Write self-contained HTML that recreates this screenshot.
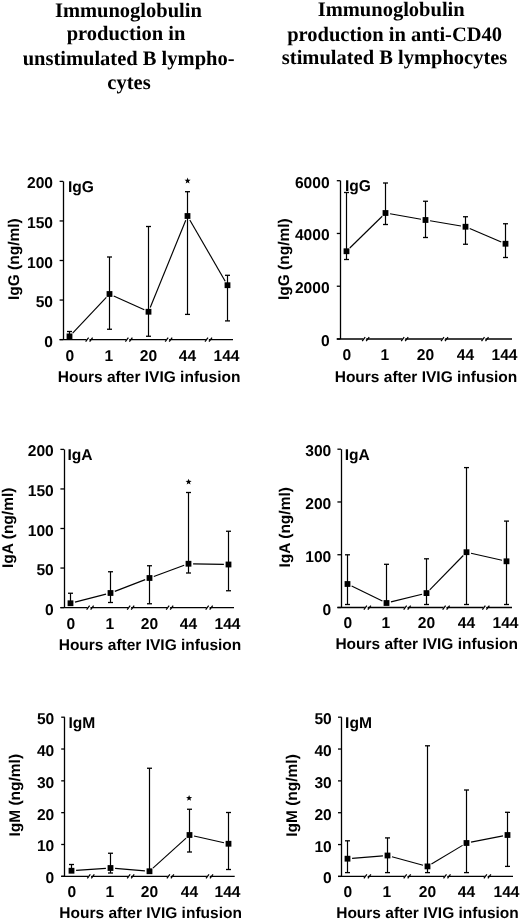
<!DOCTYPE html>
<html><head><meta charset="utf-8"><title>Immunoglobulin production</title>
<style>html,body{margin:0;padding:0;background:#fff;overflow:hidden;}svg{display:block;will-change:transform;text-rendering:geometricPrecision;}</style></head>
<body><svg width="520" height="919" viewBox="0 0 520 919">
<rect width="520" height="919" fill="#fff"/>
<g fill="#000" font-family='"Liberation Serif", serif' font-weight="bold" font-size="20.5"><text x="128.4" y="17" text-anchor="middle">Immunoglobulin</text><text x="126" y="40.2" text-anchor="middle">production in</text><text x="128.6" y="65" text-anchor="middle">unstimulated B lympho-</text><text x="129" y="89.3" text-anchor="middle">cytes</text><text x="391.2" y="15.6" text-anchor="middle">Immunoglobulin</text><text x="394.6" y="40.5" text-anchor="middle">production in anti-CD40</text><text x="394.6" y="64.3" text-anchor="middle">stimulated B lymphocytes</text></g><g stroke="#000" stroke-width="1.3"><line x1="63.5" y1="181.4" x2="63.5" y2="339.6" stroke-width="1.3"/><line x1="59.6" y1="181.4" x2="63.2" y2="181.4"/><line x1="59.6" y1="220.95" x2="63.2" y2="220.95"/><line x1="59.6" y1="260.5" x2="63.2" y2="260.5"/><line x1="59.6" y1="300.05" x2="63.2" y2="300.05"/><line x1="59.6" y1="339.6" x2="63.2" y2="339.6"/><line x1="59.6" y1="339.6" x2="233" y2="339.6"/><polygon points="87.1,338 90,338 88.8,341.2 85.9,341.2" fill="#fff" stroke="none"/><line x1="85.6" y1="341.6" x2="88.6" y2="337.6" stroke-width="1.25"/><line x1="89.6" y1="341.6" x2="92.6" y2="337.6" stroke-width="1.25"/><polygon points="126.9,338 129.8,338 128.6,341.2 125.7,341.2" fill="#fff" stroke="none"/><line x1="125.4" y1="341.6" x2="128.4" y2="337.6" stroke-width="1.25"/><line x1="129.4" y1="341.6" x2="132.4" y2="337.6" stroke-width="1.25"/><polygon points="166.7,338 169.6,338 168.4,341.2 165.5,341.2" fill="#fff" stroke="none"/><line x1="165.2" y1="341.6" x2="168.2" y2="337.6" stroke-width="1.25"/><line x1="169.2" y1="341.6" x2="172.2" y2="337.6" stroke-width="1.25"/><polygon points="206.5,338 209.4,338 208.2,341.2 205.3,341.2" fill="#fff" stroke="none"/><line x1="205" y1="341.6" x2="208" y2="337.6" stroke-width="1.25"/><line x1="209" y1="341.6" x2="212" y2="337.6" stroke-width="1.25"/><line x1="72.66" y1="333.05" x2="106.34" y2="297.35" stroke-width="1.15"/><line x1="113.69" y1="295.91" x2="144.31" y2="309.84" stroke-width="1.15"/><line x1="150.24" y1="307.49" x2="185.76" y2="220.26" stroke-width="1.15"/><line x1="189.8" y1="219.98" x2="225.2" y2="281.22" stroke-width="1.15"/><line x1="69.5" y1="331.5" x2="69.5" y2="336.4" stroke-width="1.2"/><line x1="67" y1="331.5" x2="72" y2="331.5"/><rect x="66.6" y="333.5" width="5.8" height="5.8" fill="#000" stroke="none"/><line x1="109.5" y1="257" x2="109.5" y2="329.25" stroke-width="1.2"/><line x1="107" y1="257" x2="112" y2="257"/><line x1="107" y1="329.25" x2="112" y2="329.25"/><rect x="106.6" y="291.1" width="5.8" height="5.8" fill="#000" stroke="none"/><line x1="148.5" y1="226.5" x2="148.5" y2="336.25" stroke-width="1.2"/><line x1="146" y1="226.5" x2="151" y2="226.5"/><line x1="146" y1="336.25" x2="151" y2="336.25"/><rect x="145.6" y="308.85" width="5.8" height="5.8" fill="#000" stroke="none"/><line x1="187.5" y1="191.7" x2="187.5" y2="314.4" stroke-width="1.2"/><line x1="185" y1="191.7" x2="190" y2="191.7"/><line x1="185" y1="314.4" x2="190" y2="314.4"/><rect x="184.6" y="213.1" width="5.8" height="5.8" fill="#000" stroke="none"/><line x1="227.5" y1="275.3" x2="227.5" y2="320.9" stroke-width="1.2"/><line x1="225" y1="275.3" x2="230" y2="275.3"/><line x1="225" y1="320.9" x2="230" y2="320.9"/><rect x="224.6" y="282.3" width="5.8" height="5.8" fill="#000" stroke="none"/><polygon points="187.6,177.6 188.39,179.71 190.64,179.81 188.88,181.22 189.48,183.39 187.6,182.15 185.72,183.39 186.32,181.22 184.56,179.81 186.81,179.71" fill="#000" stroke="none"/></g><g fill="#000" font-family='"Liberation Sans", sans-serif' font-weight="bold"><text x="53" y="188.4" text-anchor="end" font-size="15.6">200</text><text x="53" y="227.95" text-anchor="end" font-size="15.6">150</text><text x="53" y="267.5" text-anchor="end" font-size="15.6">100</text><text x="53" y="307.05" text-anchor="end" font-size="15.6">50</text><text x="53" y="346.6" text-anchor="end" font-size="15.6">0</text><text x="69.8" y="360.8" text-anchor="middle" font-size="15.6">0</text><text x="108.9" y="360.8" text-anchor="middle" font-size="15.6">1</text><text x="148.5" y="360.8" text-anchor="middle" font-size="15.6">20</text><text x="187.5" y="360.8" text-anchor="middle" font-size="15.6">44</text><text x="226.5" y="360.8" text-anchor="middle" font-size="15.6">144</text><text x="57.8" y="382.1" font-size="15.5">Hours after IVIG infusion</text><text x="68" y="192" font-size="15.6">IgG</text><text transform="translate(19,259.2) rotate(-90)" text-anchor="middle" font-size="15.5">IgG (ng/ml)</text></g><g stroke="#000" stroke-width="1.3"><line x1="340.5" y1="180.7" x2="340.5" y2="339" stroke-width="1.3"/><line x1="336.8" y1="180.7" x2="340.4" y2="180.7"/><line x1="336.8" y1="233.47" x2="340.4" y2="233.47"/><line x1="336.8" y1="286.23" x2="340.4" y2="286.23"/><line x1="336.8" y1="339" x2="340.4" y2="339"/><line x1="336.8" y1="339" x2="512" y2="339"/><polygon points="363.7,337.4 366.6,337.4 365.4,340.6 362.5,340.6" fill="#fff" stroke="none"/><line x1="362.2" y1="341" x2="365.2" y2="337" stroke-width="1.25"/><line x1="366.2" y1="341" x2="369.2" y2="337" stroke-width="1.25"/><polygon points="402.7,337.4 405.6,337.4 404.4,340.6 401.5,340.6" fill="#fff" stroke="none"/><line x1="401.2" y1="341" x2="404.2" y2="337" stroke-width="1.25"/><line x1="405.2" y1="341" x2="408.2" y2="337" stroke-width="1.25"/><polygon points="442.5,337.4 445.4,337.4 444.2,340.6 441.3,340.6" fill="#fff" stroke="none"/><line x1="441" y1="341" x2="444" y2="337" stroke-width="1.25"/><line x1="445" y1="341" x2="448" y2="337" stroke-width="1.25"/><polygon points="483,337.4 485.9,337.4 484.7,340.6 481.8,340.6" fill="#fff" stroke="none"/><line x1="481.5" y1="341" x2="484.5" y2="337" stroke-width="1.25"/><line x1="485.5" y1="341" x2="488.5" y2="337" stroke-width="1.25"/><line x1="349.78" y1="248.03" x2="382.22" y2="216.22" stroke-width="1.15"/><line x1="390.03" y1="213.79" x2="420.97" y2="219.21" stroke-width="1.15"/><line x1="430.04" y1="220.77" x2="460.96" y2="225.98" stroke-width="1.15"/><line x1="469.73" y1="228.55" x2="501.27" y2="241.95" stroke-width="1.15"/><line x1="346.5" y1="192.5" x2="346.5" y2="259.5" stroke-width="1.2"/><line x1="344" y1="192.5" x2="349" y2="192.5"/><line x1="344" y1="259.5" x2="349" y2="259.5"/><rect x="343.6" y="248.35" width="5.8" height="5.8" fill="#000" stroke="none"/><line x1="385.5" y1="183" x2="385.5" y2="224.5" stroke-width="1.2"/><line x1="383" y1="183" x2="388" y2="183"/><line x1="383" y1="224.5" x2="388" y2="224.5"/><rect x="382.6" y="210.1" width="5.8" height="5.8" fill="#000" stroke="none"/><line x1="425.5" y1="201.25" x2="425.5" y2="237.5" stroke-width="1.2"/><line x1="423" y1="201.25" x2="428" y2="201.25"/><line x1="423" y1="237.5" x2="428" y2="237.5"/><rect x="422.6" y="217.1" width="5.8" height="5.8" fill="#000" stroke="none"/><line x1="465.5" y1="216.75" x2="465.5" y2="244.25" stroke-width="1.2"/><line x1="463" y1="216.75" x2="468" y2="216.75"/><line x1="463" y1="244.25" x2="468" y2="244.25"/><rect x="462.6" y="223.85" width="5.8" height="5.8" fill="#000" stroke="none"/><line x1="505.5" y1="223.75" x2="505.5" y2="257.5" stroke-width="1.2"/><line x1="503" y1="223.75" x2="508" y2="223.75"/><line x1="503" y1="257.5" x2="508" y2="257.5"/><rect x="502.6" y="240.85" width="5.8" height="5.8" fill="#000" stroke="none"/></g><g fill="#000" font-family='"Liberation Sans", sans-serif' font-weight="bold"><text x="329.6" y="187.7" text-anchor="end" font-size="15.6">6000</text><text x="329.6" y="240.47" text-anchor="end" font-size="15.6">4000</text><text x="329.6" y="293.23" text-anchor="end" font-size="15.6">2000</text><text x="329.6" y="346" text-anchor="end" font-size="15.6">0</text><text x="346.8" y="360.2" text-anchor="middle" font-size="15.6">0</text><text x="384.9" y="360.2" text-anchor="middle" font-size="15.6">1</text><text x="425.5" y="360.2" text-anchor="middle" font-size="15.6">20</text><text x="465.5" y="360.2" text-anchor="middle" font-size="15.6">44</text><text x="504.5" y="360.2" text-anchor="middle" font-size="15.6">144</text><text x="334.7" y="381.5" font-size="15.5">Hours after IVIG infusion</text><text x="344.9" y="190.5" font-size="15.6">IgG</text><text transform="translate(288.6,259.2) rotate(-90)" text-anchor="middle" font-size="15.5">IgG (ng/ml)</text></g><g stroke="#000" stroke-width="1.3"><line x1="64.5" y1="449.4" x2="64.5" y2="607.6" stroke-width="1.3"/><line x1="60.4" y1="449.4" x2="64" y2="449.4"/><line x1="60.4" y1="488.95" x2="64" y2="488.95"/><line x1="60.4" y1="528.5" x2="64" y2="528.5"/><line x1="60.4" y1="568.05" x2="64" y2="568.05"/><line x1="60.4" y1="607.6" x2="64" y2="607.6"/><line x1="60.4" y1="607.6" x2="234" y2="607.6"/><polygon points="88.1,606 91,606 89.8,609.2 86.9,609.2" fill="#fff" stroke="none"/><line x1="86.6" y1="609.6" x2="89.6" y2="605.6" stroke-width="1.25"/><line x1="90.6" y1="609.6" x2="93.6" y2="605.6" stroke-width="1.25"/><polygon points="128.7,606 131.6,606 130.4,609.2 127.5,609.2" fill="#fff" stroke="none"/><line x1="127.2" y1="609.6" x2="130.2" y2="605.6" stroke-width="1.25"/><line x1="131.2" y1="609.6" x2="134.2" y2="605.6" stroke-width="1.25"/><polygon points="167.7,606 170.6,606 169.4,609.2 166.5,609.2" fill="#fff" stroke="none"/><line x1="166.2" y1="609.6" x2="169.2" y2="605.6" stroke-width="1.25"/><line x1="170.2" y1="609.6" x2="173.2" y2="605.6" stroke-width="1.25"/><polygon points="207.2,606 210.1,606 208.9,609.2 206,609.2" fill="#fff" stroke="none"/><line x1="205.7" y1="609.6" x2="208.7" y2="605.6" stroke-width="1.25"/><line x1="209.7" y1="609.6" x2="212.7" y2="605.6" stroke-width="1.25"/><line x1="74.96" y1="602.11" x2="106.04" y2="594.14" stroke-width="1.15"/><line x1="114.79" y1="591.35" x2="145.21" y2="579.65" stroke-width="1.15"/><line x1="153.82" y1="576.42" x2="184.18" y2="565.33" stroke-width="1.15"/><line x1="193.1" y1="563.84" x2="223.9" y2="564.41" stroke-width="1.15"/><line x1="70.5" y1="593.25" x2="70.5" y2="603.25" stroke-width="1.2"/><line x1="68" y1="593.25" x2="73" y2="593.25"/><rect x="67.6" y="600.35" width="5.8" height="5.8" fill="#000" stroke="none"/><line x1="110.5" y1="571.75" x2="110.5" y2="602.5" stroke-width="1.2"/><line x1="108" y1="571.75" x2="113" y2="571.75"/><line x1="108" y1="602.5" x2="113" y2="602.5"/><rect x="107.6" y="590.1" width="5.8" height="5.8" fill="#000" stroke="none"/><line x1="149.5" y1="565.75" x2="149.5" y2="603.75" stroke-width="1.2"/><line x1="147" y1="565.75" x2="152" y2="565.75"/><line x1="147" y1="603.75" x2="152" y2="603.75"/><rect x="146.6" y="575.1" width="5.8" height="5.8" fill="#000" stroke="none"/><line x1="188.5" y1="492.5" x2="188.5" y2="573" stroke-width="1.2"/><line x1="186" y1="492.5" x2="191" y2="492.5"/><line x1="186" y1="573" x2="191" y2="573"/><rect x="185.6" y="560.85" width="5.8" height="5.8" fill="#000" stroke="none"/><line x1="228.5" y1="531.25" x2="228.5" y2="590.75" stroke-width="1.2"/><line x1="226" y1="531.25" x2="231" y2="531.25"/><line x1="226" y1="590.75" x2="231" y2="590.75"/><rect x="225.6" y="561.6" width="5.8" height="5.8" fill="#000" stroke="none"/><polygon points="188.6,478.7 189.39,480.81 191.64,480.91 189.88,482.32 190.48,484.49 188.6,483.25 186.72,484.49 187.32,482.32 185.56,480.91 187.81,480.81" fill="#000" stroke="none"/></g><g fill="#000" font-family='"Liberation Sans", sans-serif' font-weight="bold"><text x="53.8" y="456.4" text-anchor="end" font-size="15.6">200</text><text x="53.8" y="495.95" text-anchor="end" font-size="15.6">150</text><text x="53.8" y="535.5" text-anchor="end" font-size="15.6">100</text><text x="53.8" y="575.05" text-anchor="end" font-size="15.6">50</text><text x="53.8" y="614.6" text-anchor="end" font-size="15.6">0</text><text x="70.8" y="628.5" text-anchor="middle" font-size="15.6">0</text><text x="109.9" y="628.5" text-anchor="middle" font-size="15.6">1</text><text x="149.5" y="628.5" text-anchor="middle" font-size="15.6">20</text><text x="188.5" y="628.5" text-anchor="middle" font-size="15.6">44</text><text x="227.5" y="628.5" text-anchor="middle" font-size="15.6">144</text><text x="58.7" y="649.8" font-size="15.5">Hours after IVIG infusion</text><text x="67.4" y="460" font-size="15.6">IgA</text><text transform="translate(13,527.8) rotate(-90)" text-anchor="middle" font-size="15.5">IgA (ng/ml)</text></g><g stroke="#000" stroke-width="1.3"><line x1="341.5" y1="449.2" x2="341.5" y2="607.5" stroke-width="1.3"/><line x1="337.4" y1="449.2" x2="341" y2="449.2"/><line x1="337.4" y1="501.97" x2="341" y2="501.97"/><line x1="337.4" y1="554.73" x2="341" y2="554.73"/><line x1="337.4" y1="607.5" x2="341" y2="607.5"/><line x1="337.4" y1="607.5" x2="512" y2="607.5"/><polygon points="365.4,605.9 368.3,605.9 367.1,609.1 364.2,609.1" fill="#fff" stroke="none"/><line x1="363.9" y1="609.5" x2="366.9" y2="605.5" stroke-width="1.25"/><line x1="367.9" y1="609.5" x2="370.9" y2="605.5" stroke-width="1.25"/><polygon points="405.2,605.9 408.1,605.9 406.9,609.1 404,609.1" fill="#fff" stroke="none"/><line x1="403.7" y1="609.5" x2="406.7" y2="605.5" stroke-width="1.25"/><line x1="407.7" y1="609.5" x2="410.7" y2="605.5" stroke-width="1.25"/><polygon points="444.1,605.9 447,605.9 445.8,609.1 442.9,609.1" fill="#fff" stroke="none"/><line x1="442.6" y1="609.5" x2="445.6" y2="605.5" stroke-width="1.25"/><line x1="446.6" y1="609.5" x2="449.6" y2="605.5" stroke-width="1.25"/><polygon points="483.9,605.9 486.8,605.9 485.6,609.1 482.7,609.1" fill="#fff" stroke="none"/><line x1="482.4" y1="609.5" x2="485.4" y2="605.5" stroke-width="1.25"/><line x1="486.4" y1="609.5" x2="489.4" y2="605.5" stroke-width="1.25"/><line x1="351.64" y1="586.01" x2="382.36" y2="600.99" stroke-width="1.15"/><line x1="390.97" y1="601.89" x2="422.03" y2="594.21" stroke-width="1.15"/><line x1="429.72" y1="589.81" x2="463.28" y2="555.49" stroke-width="1.15"/><line x1="470.99" y1="553.22" x2="502.01" y2="560.28" stroke-width="1.15"/><line x1="347.5" y1="554.8" x2="347.5" y2="604.5" stroke-width="1.2"/><line x1="345" y1="554.8" x2="350" y2="554.8"/><line x1="345" y1="604.5" x2="350" y2="604.5"/><rect x="344.6" y="581.1" width="5.8" height="5.8" fill="#000" stroke="none"/><line x1="386.5" y1="564.3" x2="386.5" y2="604.5" stroke-width="1.2"/><line x1="384" y1="564.3" x2="389" y2="564.3"/><line x1="384" y1="604.5" x2="389" y2="604.5"/><rect x="383.6" y="600.1" width="5.8" height="5.8" fill="#000" stroke="none"/><line x1="426.5" y1="558.8" x2="426.5" y2="604.5" stroke-width="1.2"/><line x1="424" y1="558.8" x2="429" y2="558.8"/><line x1="424" y1="604.5" x2="429" y2="604.5"/><rect x="423.6" y="590.2" width="5.8" height="5.8" fill="#000" stroke="none"/><line x1="466.5" y1="467.6" x2="466.5" y2="604.5" stroke-width="1.2"/><line x1="464" y1="467.6" x2="469" y2="467.6"/><line x1="464" y1="604.5" x2="469" y2="604.5"/><rect x="463.6" y="549.3" width="5.8" height="5.8" fill="#000" stroke="none"/><line x1="506.5" y1="521.1" x2="506.5" y2="604.5" stroke-width="1.2"/><line x1="504" y1="521.1" x2="509" y2="521.1"/><line x1="504" y1="604.5" x2="509" y2="604.5"/><rect x="503.6" y="558.4" width="5.8" height="5.8" fill="#000" stroke="none"/></g><g fill="#000" font-family='"Liberation Sans", sans-serif' font-weight="bold"><text x="331.3" y="456.2" text-anchor="end" font-size="15.6">300</text><text x="331.3" y="508.97" text-anchor="end" font-size="15.6">200</text><text x="331.3" y="561.73" text-anchor="end" font-size="15.6">100</text><text x="331.3" y="614.5" text-anchor="end" font-size="15.6">0</text><text x="347.8" y="628.2" text-anchor="middle" font-size="15.6">0</text><text x="385.9" y="628.2" text-anchor="middle" font-size="15.6">1</text><text x="426.5" y="628.2" text-anchor="middle" font-size="15.6">20</text><text x="466.5" y="628.2" text-anchor="middle" font-size="15.6">44</text><text x="505.5" y="628.2" text-anchor="middle" font-size="15.6">144</text><text x="335.4" y="649.2" font-size="15.5">Hours after IVIG infusion</text><text x="344.7" y="460" font-size="15.6">IgA</text><text transform="translate(289.6,527.3) rotate(-90)" text-anchor="middle" font-size="15.5">IgA (ng/ml)</text></g><g stroke="#000" stroke-width="1.3"><line x1="64.5" y1="717.2" x2="64.5" y2="876.3" stroke-width="1.3"/><line x1="61.2" y1="717.2" x2="64.8" y2="717.2"/><line x1="61.2" y1="749.02" x2="64.8" y2="749.02"/><line x1="61.2" y1="780.84" x2="64.8" y2="780.84"/><line x1="61.2" y1="812.66" x2="64.8" y2="812.66"/><line x1="61.2" y1="844.48" x2="64.8" y2="844.48"/><line x1="61.2" y1="876.3" x2="64.8" y2="876.3"/><line x1="61.2" y1="876.3" x2="234.7" y2="876.3"/><polygon points="88.8,874.7 91.7,874.7 90.5,877.9 87.6,877.9" fill="#fff" stroke="none"/><line x1="87.3" y1="878.3" x2="90.3" y2="874.3" stroke-width="1.25"/><line x1="91.3" y1="878.3" x2="94.3" y2="874.3" stroke-width="1.25"/><polygon points="128.7,874.7 131.6,874.7 130.4,877.9 127.5,877.9" fill="#fff" stroke="none"/><line x1="127.2" y1="878.3" x2="130.2" y2="874.3" stroke-width="1.25"/><line x1="131.2" y1="878.3" x2="134.2" y2="874.3" stroke-width="1.25"/><polygon points="168.4,874.7 171.3,874.7 170.1,877.9 167.2,877.9" fill="#fff" stroke="none"/><line x1="166.9" y1="878.3" x2="169.9" y2="874.3" stroke-width="1.25"/><line x1="170.9" y1="878.3" x2="173.9" y2="874.3" stroke-width="1.25"/><polygon points="207.5,874.7 210.4,874.7 209.2,877.9 206.3,877.9" fill="#fff" stroke="none"/><line x1="206" y1="878.3" x2="209" y2="874.3" stroke-width="1.25"/><line x1="210" y1="878.3" x2="213" y2="874.3" stroke-width="1.25"/><line x1="76.09" y1="870.43" x2="105.91" y2="868.32" stroke-width="1.15"/><line x1="115.08" y1="868.38" x2="144.92" y2="870.87" stroke-width="1.15"/><line x1="152.91" y1="868.16" x2="186.09" y2="838.09" stroke-width="1.15"/><line x1="193.99" y1="836.01" x2="224.01" y2="842.74" stroke-width="1.15"/><line x1="71.5" y1="864.5" x2="71.5" y2="870.75" stroke-width="1.2"/><line x1="69" y1="864.5" x2="74" y2="864.5"/><rect x="68.6" y="867.85" width="5.8" height="5.8" fill="#000" stroke="none"/><line x1="110.5" y1="853.25" x2="110.5" y2="873" stroke-width="1.2"/><line x1="108" y1="853.25" x2="113" y2="853.25"/><line x1="108" y1="873" x2="113" y2="873"/><rect x="107.6" y="865.1" width="5.8" height="5.8" fill="#000" stroke="none"/><line x1="149.5" y1="768.25" x2="149.5" y2="871.25" stroke-width="1.2"/><line x1="147" y1="768.25" x2="152" y2="768.25"/><rect x="146.6" y="868.35" width="5.8" height="5.8" fill="#000" stroke="none"/><line x1="189.5" y1="809.25" x2="189.5" y2="852" stroke-width="1.2"/><line x1="187" y1="809.25" x2="192" y2="809.25"/><line x1="187" y1="852" x2="192" y2="852"/><rect x="186.6" y="832.1" width="5.8" height="5.8" fill="#000" stroke="none"/><line x1="228.5" y1="812.5" x2="228.5" y2="869.5" stroke-width="1.2"/><line x1="226" y1="812.5" x2="231" y2="812.5"/><line x1="226" y1="869.5" x2="231" y2="869.5"/><rect x="225.6" y="840.85" width="5.8" height="5.8" fill="#000" stroke="none"/><polygon points="189.1,795 189.89,797.11 192.14,797.21 190.38,798.62 190.98,800.79 189.1,799.55 187.22,800.79 187.82,798.62 186.06,797.21 188.31,797.11" fill="#000" stroke="none"/></g><g fill="#000" font-family='"Liberation Sans", sans-serif' font-weight="bold"><text x="54.3" y="724.2" text-anchor="end" font-size="15.6">50</text><text x="54.3" y="756.02" text-anchor="end" font-size="15.6">40</text><text x="54.3" y="787.84" text-anchor="end" font-size="15.6">30</text><text x="54.3" y="819.66" text-anchor="end" font-size="15.6">20</text><text x="54.3" y="851.48" text-anchor="end" font-size="15.6">10</text><text x="54.3" y="883.3" text-anchor="end" font-size="15.6">0</text><text x="71.8" y="896.7" text-anchor="middle" font-size="15.6">0</text><text x="109.9" y="896.7" text-anchor="middle" font-size="15.6">1</text><text x="149.5" y="896.7" text-anchor="middle" font-size="15.6">20</text><text x="189.5" y="896.7" text-anchor="middle" font-size="15.6">44</text><text x="227.5" y="896.7" text-anchor="middle" font-size="15.6">144</text><text x="59.3" y="918.1" font-size="15.5">Hours after IVIG infusion</text><text x="68.4" y="727.8" font-size="15.6">IgM</text><text transform="translate(20.1,795.25) rotate(-90)" text-anchor="middle" font-size="15.5">IgM (ng/ml)</text></g><g stroke="#000" stroke-width="1.3"><line x1="341.5" y1="717.2" x2="341.5" y2="876.4" stroke-width="1.3"/><line x1="338" y1="717.2" x2="341.6" y2="717.2"/><line x1="338" y1="749.04" x2="341.6" y2="749.04"/><line x1="338" y1="780.88" x2="341.6" y2="780.88"/><line x1="338" y1="812.72" x2="341.6" y2="812.72"/><line x1="338" y1="844.56" x2="341.6" y2="844.56"/><line x1="338" y1="876.4" x2="341.6" y2="876.4"/><line x1="338" y1="876.4" x2="513" y2="876.4"/><polygon points="365.4,874.8 368.3,874.8 367.1,878 364.2,878" fill="#fff" stroke="none"/><line x1="363.9" y1="878.4" x2="366.9" y2="874.4" stroke-width="1.25"/><line x1="367.9" y1="878.4" x2="370.9" y2="874.4" stroke-width="1.25"/><polygon points="405.2,874.8 408.1,874.8 406.9,878 404,878" fill="#fff" stroke="none"/><line x1="403.7" y1="878.4" x2="406.7" y2="874.4" stroke-width="1.25"/><line x1="407.7" y1="878.4" x2="410.7" y2="874.4" stroke-width="1.25"/><polygon points="445,874.8 447.9,874.8 446.7,878 443.8,878" fill="#fff" stroke="none"/><line x1="443.5" y1="878.4" x2="446.5" y2="874.4" stroke-width="1.25"/><line x1="447.5" y1="878.4" x2="450.5" y2="874.4" stroke-width="1.25"/><polygon points="485.4,874.8 488.3,874.8 487.1,878 484.2,878" fill="#fff" stroke="none"/><line x1="483.9" y1="878.4" x2="486.9" y2="874.4" stroke-width="1.25"/><line x1="487.9" y1="878.4" x2="490.9" y2="874.4" stroke-width="1.25"/><line x1="352.09" y1="858.33" x2="382.91" y2="855.87" stroke-width="1.15"/><line x1="391.94" y1="856.71" x2="423.06" y2="865.19" stroke-width="1.15"/><line x1="431.44" y1="864.03" x2="462.56" y2="845.37" stroke-width="1.15"/><line x1="471.01" y1="842.12" x2="502.99" y2="835.88" stroke-width="1.15"/><line x1="347.5" y1="840.8" x2="347.5" y2="872.6" stroke-width="1.2"/><line x1="345" y1="840.8" x2="350" y2="840.8"/><line x1="345" y1="872.6" x2="350" y2="872.6"/><rect x="344.6" y="855.8" width="5.8" height="5.8" fill="#000" stroke="none"/><line x1="387.5" y1="837.9" x2="387.5" y2="872.6" stroke-width="1.2"/><line x1="385" y1="837.9" x2="390" y2="837.9"/><line x1="385" y1="872.6" x2="390" y2="872.6"/><rect x="384.6" y="852.6" width="5.8" height="5.8" fill="#000" stroke="none"/><line x1="427.5" y1="745.8" x2="427.5" y2="872.6" stroke-width="1.2"/><line x1="425" y1="745.8" x2="430" y2="745.8"/><line x1="425" y1="872.6" x2="430" y2="872.6"/><rect x="424.6" y="863.5" width="5.8" height="5.8" fill="#000" stroke="none"/><line x1="466.5" y1="790" x2="466.5" y2="872.6" stroke-width="1.2"/><line x1="464" y1="790" x2="469" y2="790"/><line x1="464" y1="872.6" x2="469" y2="872.6"/><rect x="463.6" y="840.1" width="5.8" height="5.8" fill="#000" stroke="none"/><line x1="507.5" y1="812.3" x2="507.5" y2="866.4" stroke-width="1.2"/><line x1="505" y1="812.3" x2="510" y2="812.3"/><line x1="505" y1="866.4" x2="510" y2="866.4"/><rect x="504.6" y="832.1" width="5.8" height="5.8" fill="#000" stroke="none"/></g><g fill="#000" font-family='"Liberation Sans", sans-serif' font-weight="bold"><text x="331.8" y="724.2" text-anchor="end" font-size="15.6">50</text><text x="331.8" y="756.04" text-anchor="end" font-size="15.6">40</text><text x="331.8" y="787.88" text-anchor="end" font-size="15.6">30</text><text x="331.8" y="819.72" text-anchor="end" font-size="15.6">20</text><text x="331.8" y="851.56" text-anchor="end" font-size="15.6">10</text><text x="331.8" y="883.4" text-anchor="end" font-size="15.6">0</text><text x="347.8" y="896.7" text-anchor="middle" font-size="15.6">0</text><text x="386.9" y="896.7" text-anchor="middle" font-size="15.6">1</text><text x="427.5" y="896.7" text-anchor="middle" font-size="15.6">20</text><text x="466.5" y="896.7" text-anchor="middle" font-size="15.6">44</text><text x="506.5" y="896.7" text-anchor="middle" font-size="15.6">144</text><text x="336.2" y="918.1" font-size="15.5">Hours after IVIG infusion</text><text x="345.1" y="728" font-size="15.6">IgM</text><text transform="translate(296.6,795.5) rotate(-90)" text-anchor="middle" font-size="15.5">IgM (ng/ml)</text></g>
</svg></body></html>
